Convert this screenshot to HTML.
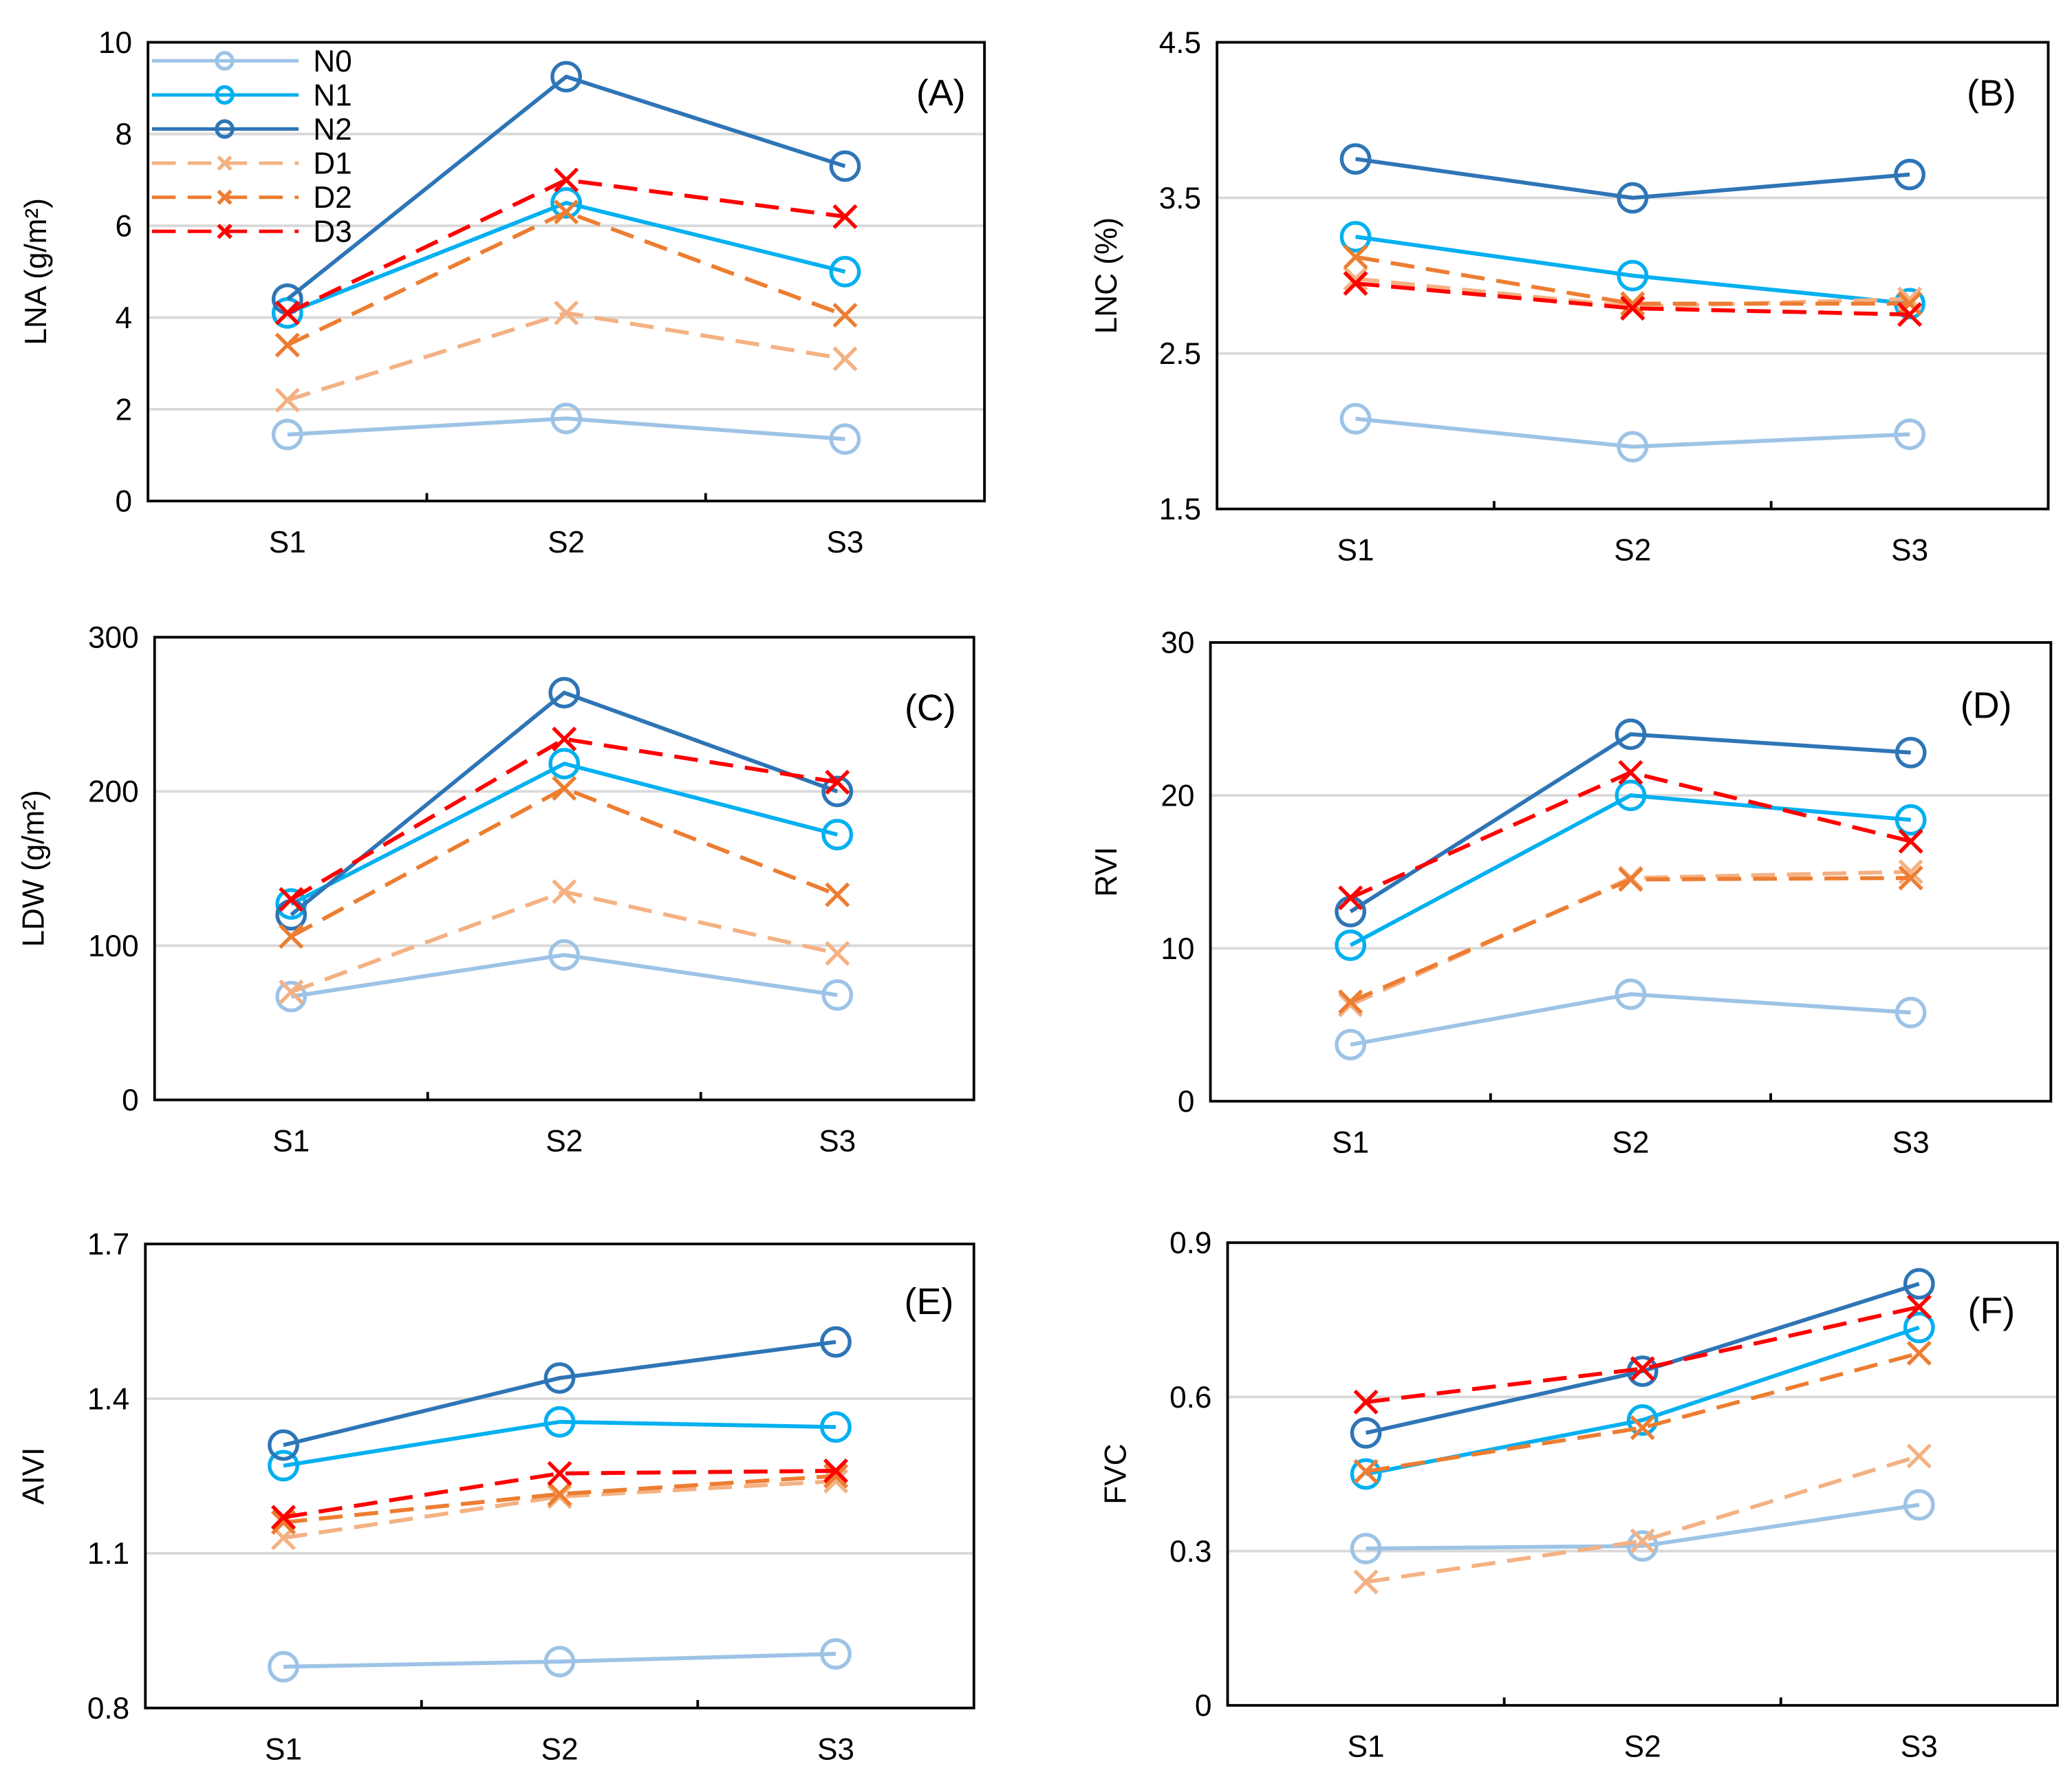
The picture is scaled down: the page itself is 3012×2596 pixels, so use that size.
<!DOCTYPE html>
<html><head><meta charset="utf-8"><style>
html,body{margin:0;padding:0;background:#fff;}
svg{display:block;}
text{font-family:"Liberation Sans",Arial,sans-serif;fill:#000;}
</style></head>
<body>
<svg id="chart" xmlns="http://www.w3.org/2000/svg" width="3012" height="2596" viewBox="0 0 1568 1351" preserveAspectRatio="none"></svg>
<script>
const categories = ["S1","S2","S3"];
const seriesNames = ["N0","N1","N2","D1","D2","D3"];
const seriesColors = ["#9dc3e6","#00b0f0","#2e75b6","#f4b183","#ed7d31","#ff0000"];
// panel values
const lnaN0=[1.45,1.8,1.35], lnaN1=[4.1,6.5,5.0], lnaN2=[4.4,9.25,7.3], lnaD1=[2.2,4.1,3.1], lnaD2=[3.4,6.3,4.05], lnaD3=[4.1,7.0,6.2];
const lncN0=[2.08,1.9,1.98], lncN1=[3.25,3.0,2.82], lncN2=[3.75,3.5,3.65], lncD1=[2.98,2.8,2.85], lncD2=[3.12,2.82,2.82], lncD3=[2.95,2.79,2.75];
const ldwN0=[67,94,68], ldwN1=[127,218,172], ldwN2=[120,264,200], ldwD1=[70,135,95], ldwD2=[106,202,133], ldwD3=[130,234,206];
const rviN0=[3.7,7,5.8], rviN1=[10.2,20,18.4], rviN2=[12.4,24,22.8], rviD1=[6.3,14.6,15], rviD2=[6.5,14.5,14.6], rviD3=[13.3,21.5,17];
const aiviN0=[0.88,0.89,0.905], aiviN1=[1.27,1.355,1.345], aiviN2=[1.31,1.44,1.51], aiviD1=[1.13,1.21,1.24], aiviD2=[1.16,1.215,1.25], aiviD3=[1.17,1.255,1.26];
const fvcN0=[0.305,0.31,0.39], fvcN1=[0.45,0.555,0.735], fvcN2=[0.53,0.65,0.82], fvcD1=[0.24,0.32,0.485], fvcD2=[0.455,0.54,0.685], fvcD3=[0.59,0.655,0.775];
const lnaTicks=["0","2","4","6","8","10"];
const lncTicks=["1.5","2.5","3.5","4.5"];
const ldwTicks=["0","100","200","300"];
const rviTicks=["0","10","20","30"];
const aiviTicks=["0.8","1.1","1.4","1.7"];
const fvcTicks=["0","0.3","0.6","0.9"];

const NS="http://www.w3.org/2000/svg";
const svg=document.getElementById('chart');
function mk(tag,attrs,parent){const e=document.createElementNS(NS,tag);for(const k in attrs)e.setAttribute(k,attrs[k]);(parent||svg).appendChild(e);return e;}
const dashes=["","","","18,9","18,9","18,9"];

const panels=[
 {id:"a",label:"(A)",title:"LNA (g/m²)",box:[112,32,745,379],ticks:lnaTicks,data:[lnaN0,lnaN1,lnaN2,lnaD1,lnaD2,lnaD3],lx:712,ly:80,tx:35,legend:true},
 {id:"b",label:"(B)",title:"LNC (%)",box:[921,32,1550,385],ticks:lncTicks,data:[lncN0,lncN1,lncN2,lncD1,lncD2,lncD3],lx:1507,ly:80,tx:845},
 {id:"c",label:"(C)",title:"LDW (g/m²)",box:[117,482,737,832],ticks:ldwTicks,data:[ldwN0,ldwN1,ldwN2,ldwD1,ldwD2,ldwD3],lx:704,ly:545,tx:33},
 {id:"d",label:"(D)",title:"RVI",box:[916,486,1552,833],ticks:rviTicks,data:[rviN0,rviN1,rviN2,rviD1,rviD2,rviD3],lx:1503,ly:543,tx:845},
 {id:"e",label:"(E)",title:"AIVI",box:[110,941,737,1292],ticks:aiviTicks,data:[aiviN0,aiviN1,aiviN2,aiviD1,aiviD2,aiviD3],lx:703,ly:994,tx:33},
 {id:"f",label:"(F)",title:"FVC",box:[929,940,1557,1290],ticks:fvcTicks,data:[fvcN0,fvcN1,fvcN2,fvcD1,fvcD2,fvcD3],lx:1507,ly:1001,tx:852}
];

function marker(g,type,x,y,color,r){
  if(type<3){const c=mk('circle',{cx:x,cy:y,r:r,fill:'none',stroke:color,'stroke-width':2.8},g);}
  else{const p=mk('path',{d:`M${x-r*0.8},${y-r*0.8}L${x+r*0.8},${y+r*0.8}M${x-r*0.8},${y+r*0.8}L${x+r*0.8},${y-r*0.8}`,stroke:color,'stroke-width':2.8,fill:'none'},g);}
}

panels.forEach(P=>{
  const g=mk('g',{});
  
  
  const [x0,y0,x1,y1]=P.box;
  const tv=P.ticks.map(Number);
  const vmin=tv[0],vmax=tv[tv.length-1];
  const ys=v=>y1-(v-vmin)/(vmax-vmin)*(y1-y0);
  const w=(x1-x0)/3;
  const xs=i=>x0+w*(i+0.5);
  tv.forEach((v,i)=>{
    if(i>0&&i<tv.length-1){const gl=mk('line',{x1:x0,x2:x1,y1:ys(v),y2:ys(v),stroke:'#d9d9d9','stroke-width':2},g);}
    const t=mk('text',{x:x0-12,y:ys(v)+8,'text-anchor':'end','font-size':23},g);t.textContent=P.ticks[i];
    
  });
  const fr=mk('rect',{x:x0,y:y0,width:x1-x0,height:y1-y0,fill:'none',stroke:'#000','stroke-width':2},g);
  
  for(let i=1;i<3;i++){mk('line',{x1:x0+w*i,x2:x0+w*i,y1:y1,y2:y1-6,stroke:'#000','stroke-width':2},g);}
  categories.forEach((c,i)=>{const t=mk('text',{x:xs(i),y:y1+39,'text-anchor':'middle','font-size':23},g);t.textContent=c;
    });
  const yt=mk('text',{x:P.tx,y:(y0+y1)/2,'text-anchor':'middle','font-size':23,transform:`rotate(-90 ${P.tx} ${(y0+y1)/2})`},g);
  yt.textContent=P.title;
  const lb=mk('text',{x:P.lx,y:P.ly,'text-anchor':'middle','font-size':28},g);lb.textContent=P.label;
  
  P.data.forEach((arr,si)=>{
    const pts=arr.map((v,i)=>xs(i)+','+ys(v)).join(' ');
    const pl=mk('polyline',{points:pts,fill:'none',stroke:seriesColors[si],'stroke-width':3,'stroke-dasharray':dashes[si]},g);
    
    arr.forEach((v,i)=>marker(g,si,xs(i),ys(v),seriesColors[si],10.5));
  });
  if(P.legend){
    const lg=mk('g',{},g);
    seriesNames.forEach((n,si)=>{
      const y=46+si*25.8;
      const e=mk('g',{},lg);
      mk('line',{x1:115,x2:226,y1:y,y2:y,stroke:seriesColors[si],'stroke-width':2.6,'stroke-dasharray':dashes[si]},e);
      marker(e,si,170,y,seriesColors[si],6);
      const t=mk('text',{x:237,y:y+8,'font-size':23},e);t.textContent=n;
    });
  }
});
</script>
</body></html>
